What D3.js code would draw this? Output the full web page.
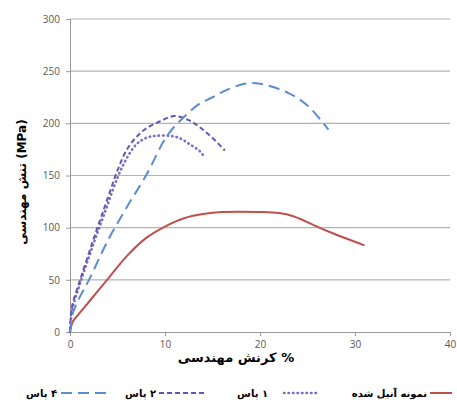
<!DOCTYPE html>
<html>
<head>
<meta charset="utf-8">
<script src="https://cdn.jsdelivr.net/npm/d3@7/dist/d3.min.js"></script>
<style>
  body { margin: 0; background: #fff; }
  .tick text { font-family: "Open Sans", sans-serif; font-size: 10px; fill: #595959; }
  .fa { font-family: "DejaVu Sans", sans-serif; font-weight: bold; fill: #000; }
</style>
</head>
<body>
<script>
width  = 457
height = 402

// strain (%) / stress (MPa)
var annealed = [[0,0],[0.3,10],[1,18],[2,29],[4,51],[6,73],[8,90],[10,101],[12,109],[14,113],[16,115],[20,115],[22,114],[23.5,111],[27,97],[31,83]];
var pass1 = [[0,0],[0.2,20],[1,45],[2,72],[3,98],[4,123],[5,148],[6,167],[7,180],[8,186],[9,188],[10.5,188],[11.5,186],[12.6,180],[13.7,173],[14.2,167]];
var pass2 = [[0,0],[0.2,24],[1,48],[2,76],[3,103],[4,129],[5,155],[6,175],[7,187],[8,195],[9.5,202],[11,207],[12.5,203],[13.7,196],[15,186],[16.3,174]];
var pass4 = [[0,0],[0.3,18],[1,33],[2,50],[4,88],[6,120],[8,150],[10,185],[11,197],[12,206],[13.5,218],[15,225],[16.5,232],[18.4,238],[20,238],[23,229],[25,217],[26.5,202],[27.2,194]];

var xTicks = [0, 10, 20, 30, 40];
var yTicks = [0, 50, 100, 150, 200, 250, 300];

var series = [
  {name: "نمونه آنیل شده", data: annealed, color: "#c0504d", dash: null,    cap: "butt"},
  {name: "۱ پاس",          data: pass1,    color: "#7f6bc4", dash: "0.5,4", cap: "round"},
  {name: "۲ پاس",          data: pass2,    color: "#6357b2", dash: "5,3",   cap: "butt"},
  {name: "۴ پاس",          data: pass4,    color: "#5b8bd0", dash: "11,6",  cap: "butt"}
];

var x = d3.scaleLinear().domain([0, 40]).range([70, 450]);
var y = d3.scaleLinear().domain([0, 300]).range([332, 19]);

const svg = d3.select('body').append('svg')
  .attr('width', width)
  .attr('height', height);

// horizontal grid
svg.append("g")
  .selectAll("line")
  .data(yTicks.slice(1))
  .enter().append("line")
    .attr("x1", x(0)).attr("x2", x(40))
    .attr("y1", d => y(d)).attr("y2", d => y(d))
    .attr("stroke", "#b3b3b3").attr("stroke-width", 1.2);

// y axis
var yAxis = svg.append("g")
  .attr("transform", "translate(" + x(0) + ",0)")
  .call(d3.axisLeft(y).tickValues(yTicks).tickSize(4).tickPadding(6));
yAxis.select(".domain").attr("stroke", "#999");
yAxis.selectAll(".tick line").attr("stroke", "#999");

// x axis
var xAxis = svg.append("g")
  .attr("transform", "translate(0," + y(0) + ")")
  .call(d3.axisBottom(x).tickValues(xTicks).tickSize(4).tickPadding(5));
xAxis.select(".domain").attr("stroke", "#999");
xAxis.selectAll(".tick line").attr("stroke", "#999");

var line = d3.line()
  .x(d => x(d[0]))
  .y(d => y(d[1]))
  .curve(d3.curveCatmullRom.alpha(0.5));

svg.append("g")
  .selectAll("path")
  .data(series)
  .enter().append("path")
    .attr("d", d => line(d.data))
    .attr("fill", "none")
    .attr("stroke", d => d.color)
    .attr("stroke-width", d => d.dash === "0.5,4" ? 2.6 : 2)
    .attr("stroke-dasharray", d => d.dash)
    .attr("stroke-linecap", d => d.cap);

// axis titles (LRM keeps % on the right, (MPa) at the top)
svg.append("text")
  .attr("class", "fa")
  .attr("direction", "ltr")
  .attr("x", 236).attr("y", 362)
  .attr("text-anchor", "middle")
  .attr("font-size", 13)
  .text("\u200Eکرنش مهندسی %");

svg.append("text")
  .attr("class", "fa")
  .attr("direction", "ltr")
  .attr("transform", "translate(26,182) rotate(-90)")
  .attr("text-anchor", "middle")
  .attr("font-size", 12)
  .text("\u200Eتنش مهندسی (MPa)");

// legend: text on the left, swatch on the right
var legendPos = [
  {textEnd: 427, x1: 430, x2: 452},
  {textEnd: 268, x1: 284, x2: 318},
  {textEnd: 156, x1: 159, x2: 207},
  {textEnd: 57,  x1: 61,  x2: 108}
];

var legend = svg.append("g")
  .selectAll("g")
  .data(series)
  .enter().append("g");

legend.append("line")
  .attr("x1", (d, i) => legendPos[i].x1)
  .attr("x2", (d, i) => legendPos[i].x2)
  .attr("y1", 393).attr("y2", 393)
  .attr("stroke", d => d.color)
  .attr("stroke-width", d => d.dash === "0.5,4" ? 2.6 : 2)
  .attr("stroke-dasharray", d => d.dash)
  .attr("stroke-linecap", d => d.cap);

legend.append("text")
  .attr("class", "fa")
  .attr("direction", "rtl")
  .attr("y", 397)
  .attr("text-anchor", "middle")
  .attr("font-size", 10)
  .text(d => "\u200F" + d.name)
  .each(function(d, i) {
    var w = this.getComputedTextLength();
    d3.select(this).attr("x", legendPos[i].textEnd - w / 2);
  });
</script>
</body>
</html>
